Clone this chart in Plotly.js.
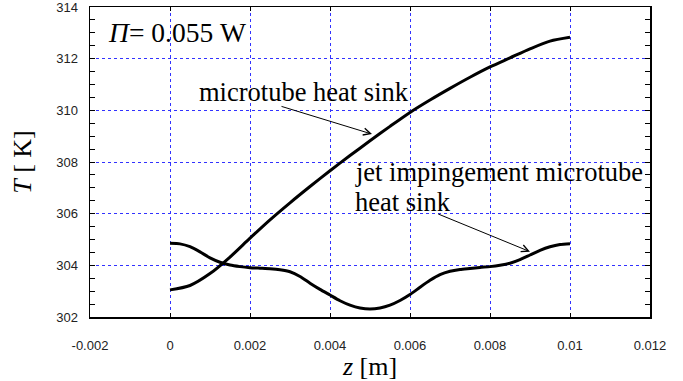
<!DOCTYPE html>
<html>
<head>
<meta charset="utf-8">
<script src="https://cdn.plot.ly/plotly-3.0.1.min.js"></script>
<style>html,body{margin:0;padding:0;background:#fff;}#chart{width:683px;height:381px;}</style>
</head>
<body>
<div id="chart"></div>
<script>
// z positions [m]
const zMicro = [0,0.0005,0.001,0.0015,0.002,0.0025,0.003,0.0035,0.004,0.0045,0.005,0.0055,0.006,0.0065,0.007,0.0075,0.008,0.0085,0.009,0.0095,0.01];
// microtube heat sink temperature [K]
const tMicro = [303.05,303.22,303.68,304.32,305.05,305.76,306.42,307.05,307.66,308.25,308.82,309.38,309.92,310.40,310.85,311.28,311.68,312.03,312.38,312.68,312.83];
const zJet = [0,0.00025,0.0005,0.00075,0.001,0.00125,0.0015,0.00175,0.002,0.00225,0.0025,0.00275,0.003,0.00325,0.0035,0.00375,0.004,0.00425,0.0045,0.00475,0.005,
              0.00525,0.0055,0.00575,0.006,0.00625,0.0065,0.00675,0.007,0.00725,0.0075,0.00775,0.008,0.00825,0.0085,0.00875,0.009,0.00925,0.0095,0.00975,0.01];
// jet impingement microtube heat sink temperature [K]
const tJet = [304.85,304.83,304.72,304.52,304.29,304.12,304.01,303.95,303.91,303.89,303.87,303.83,303.75,303.57,303.31,303.07,302.85,302.63,302.46,302.35,302.31,
              302.35,302.46,302.64,302.87,303.15,303.42,303.64,303.77,303.84,303.88,303.92,303.95,304.00,304.08,304.22,304.40,304.58,304.72,304.81,304.84];

const xTickVals = [-0.002,0,0.002,0.004,0.006,0.008,0.01,0.012];
const xTickText = ['-0.002','0','0.002','0.004','0.006','0.008','0.01','0.012'];
const yTickVals = [302,304,306,308,310,312,314];
const yTickText = ['302','304','306','308','310','312','314'];

const serif = 'Liberation Serif';
const sans = 'Liberation Sans';
const gridColor = 'rgb(50,50,255)';

const traces = [
  {x: zMicro, y: tMicro, mode: 'lines', line: {color: '#000', width: 3, shape: 'spline', smoothing: 0.8}, showlegend: false, hoverinfo: 'skip'},
  {x: zJet, y: tJet, mode: 'lines', line: {color: '#000', width: 3, shape: 'spline', smoothing: 0.6}, showlegend: false, hoverinfo: 'skip'}
];

const layout = {
  width: 683, height: 381,
  margin: {l: 90, r: 33, t: 7, b: 64},
  paper_bgcolor: '#fff', plot_bgcolor: '#fff',
  showlegend: false,
  xaxis: {
    range: [-0.002, 0.012], tickvals: xTickVals, ticktext: xTickText,
    showgrid: true, gridcolor: gridColor, griddash: 'dot', gridwidth: 1,
    zeroline: false, showline: true, linecolor: '#000', linewidth: 1.5, mirror: 'ticks',
    ticks: 'inside', ticklen: 4, tickcolor: '#000', ticklabelstandoff: 16,
    tickfont: {family: sans, size: 13, color: '#222'},
    title: {text: '<i>z</i> [m]', font: {family: serif, size: 26, color: '#000'}, standoff: 3}
  },
  yaxis: {
    range: [302, 314], tickvals: yTickVals, ticktext: yTickText,
    showgrid: true, gridcolor: gridColor, griddash: 'dot', gridwidth: 1,
    zeroline: false, showline: true, linecolor: '#000', linewidth: 1.5, mirror: 'ticks',
    ticks: 'inside', ticklen: 5, tickcolor: '#000', ticklabelstandoff: 8, ticklabeloverflow: 'allow',
    minor: {dtick: 0.5, ticks: 'inside', ticklen: 5, tickcolor: '#000', showgrid: false},
    tickfont: {family: sans, size: 13, color: '#222'},
    title: {text: '<i>T</i> [ K]', font: {family: serif, size: 26, color: '#000'}, standoff: 17}
  },
  yaxis2: {
    range: [302, 314], overlaying: 'y', side: 'right', showgrid: false, zeroline: false,
    showticklabels: false, ticks: 'inside', ticklen: 5, tickcolor: '#000', tickvals: yTickVals,
    minor: {dtick: 0.5, ticks: 'inside', ticklen: 5, tickcolor: '#000', showgrid: false}
  },
  annotations: [
    {x: -0.0016, y: 313.0, xref: 'x', yref: 'y', xanchor: 'left', yanchor: 'middle', showarrow: false,
     text: '<i>Π</i>= 0.055 W', font: {family: serif, size: 27.5, color: '#000'}},
    {x: 0.000675, y: 310.71, xref: 'x', yref: 'y', xanchor: 'left', yanchor: 'middle', showarrow: false,
     text: 'microtube heat sink', font: {family: serif, size: 26.5, color: '#000'}},
    {x: 0.00505, y: 309.08, ax: 0.00275, ay: 310.17, xref: 'x', yref: 'y', axref: 'x', ayref: 'y',
     text: '', showarrow: true, arrowhead: 5, arrowsize: 1.4, arrowwidth: 1, arrowcolor: '#000'},
    {x: 0.004575, y: 307.6, xref: 'x', yref: 'y', xanchor: 'left', yanchor: 'middle', showarrow: false,
     text: 'jet impingement microtube', font: {family: serif, size: 26.5, color: '#000'}},
    {x: 0.004575, y: 306.45, xref: 'x', yref: 'y', xanchor: 'left', yanchor: 'middle', showarrow: false,
     text: 'heat sink', font: {family: serif, size: 26.5, color: '#000'}},
    {x: 0.009, y: 304.53, ax: 0.006668, ay: 306.01, xref: 'x', yref: 'y', axref: 'x', ayref: 'y',
     text: '', showarrow: true, arrowhead: 5, arrowsize: 1.4, arrowwidth: 1, arrowcolor: '#000'}
  ]
};

Plotly.newPlot('chart', traces, layout, {staticPlot: true, displayModeBar: false});
</script>
</body>
</html>
